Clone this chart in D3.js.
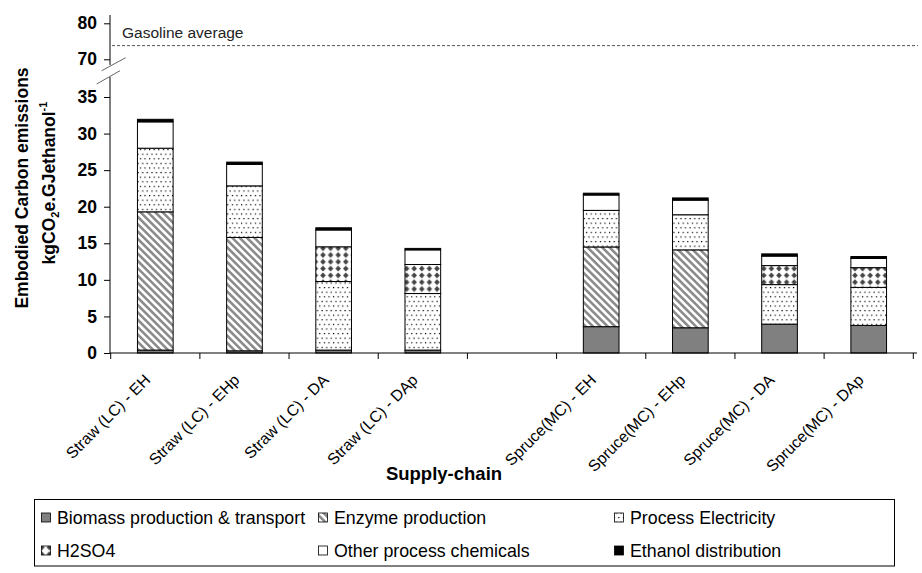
<!DOCTYPE html>
<html>
<head>
<meta charset="utf-8">
<script src="https://cdn.jsdelivr.net/npm/d3@7"></script>
<style>
  html, body { margin: 0; padding: 0; background: #fff; }
  svg { display: block; font-family: "Liberation Sans", Arial, sans-serif; }
</style>
</head>
<body>
<svg id="chart" width="922" height="573"></svg>
<script>
// ---- data ----
const categories = ["Straw (LC) - EH", "Straw (LC) - EHp", "Straw (LC) - DA", "Straw (LC) - DAp", "",
                    "Spruce(MC) - EH", "Spruce(MC) - EHp", "Spruce(MC) - DA", "Spruce(MC) - DAp"];
const seriesNames = ["Biomass production & transport", "Enzyme production", "Process Electricity",
                     "H2SO4", "Other process chemicals", "Ethanol distribution"];
const biomass      = [0.4, 0.3, 0.4, 0.4, null, 3.6, 3.45, 3.95, 3.77];
const enzyme       = [18.9, 15.5, 0, 0, null, 10.9, 10.65, 0, 0];
const electricity  = [8.7, 7.05, 9.37, 7.73, null, 5.0, 4.8, 5.4, 5.2];
const h2so4        = [0, 0, 4.75, 3.97, null, 0, 0, 2.6, 2.7];
const otherChem    = [3.6, 2.95, 2.3, 2.0, null, 2.1, 2.0, 1.3, 1.25];
const distribution = [0.35, 0.3, 0.3, 0.2, null, 0.25, 0.3, 0.3, 0.27];
const lowerTicks = [0, 5, 10, 15, 20, 25, 30, 35];
const upperTicks = [70, 80];
const gasolineAverage = 73.8;
const gasolineLabel = "Gasoline average";
const xTitle = "Supply-chain";

const seriesValues = [biomass, enzyme, electricity, h2so4, otherChem, distribution];

// ---- setup ----
const svg = d3.select("#chart");
const defs = svg.append("defs");

// patterns
const pHatch = defs.append("pattern").attr("id", "hatch").attr("patternUnits", "userSpaceOnUse")
  .attr("width", 5.2).attr("height", 5.2).attr("patternTransform", "rotate(-45)");
pHatch.append("rect").attr("width", 5.2).attr("height", 5.2).attr("fill", "#fff");
pHatch.append("rect").attr("width", 2.6).attr("height", 5.2).attr("fill", "#8c8c8c");

const pDots = defs.append("pattern").attr("id", "dots").attr("patternUnits", "userSpaceOnUse")
  .attr("width", 9.2).attr("height", 9.2);
pDots.append("rect").attr("width", 9.2).attr("height", 9.2).attr("fill", "#fff");
pDots.append("rect").attr("x", 1.8).attr("y", 1.8).attr("width", 1.2).attr("height", 1.2).attr("fill", "#000");
pDots.append("rect").attr("x", 6.4).attr("y", 1.8).attr("width", 1.2).attr("height", 1.2).attr("fill", "#000");
pDots.append("rect").attr("x", 4.1).attr("y", 6.4).attr("width", 1.2).attr("height", 1.2).attr("fill", "#000");
pDots.append("rect").attr("x", 8.7).attr("y", 6.4).attr("width", 0.5).attr("height", 1.2).attr("fill", "#000");
pDots.append("rect").attr("x", 0).attr("y", 6.4).attr("width", 0.7).attr("height", 1.2).attr("fill", "#000");

const pDiam = defs.append("pattern").attr("id", "diam").attr("patternUnits", "userSpaceOnUse")
  .attr("width", 7.6).attr("height", 6.8);
pDiam.append("rect").attr("width", 7.6).attr("height", 6.8).attr("fill", "#fff");
pDiam.append("polygon").attr("points", "3.8,0.5 6.6,3.4 3.8,6.3 1.0,3.4").attr("fill", "#454545");

const fills = ["#808080", "url(#hatch)", "url(#dots)", "url(#diam)", "#ffffff", "#000000"];

// scales
const x = d3.scaleBand().domain(categories).range([110.7, 913.3]).paddingInner(0.6).paddingOuter(0.3);
const y = d3.scaleLinear().domain([0, 35]).range([353, 97]);
const yTop = d3.scaleLinear().domain([70, 80]).range([59.3, 23.3]);
const step = x.step();

// stacked data
const rows = categories.map((c, i) => {
  const o = { cat: c };
  seriesNames.forEach((s, k) => { o[s] = seriesValues[k][i] || 0; });
  return o;
}).filter(d => d.cat !== "");
const stack = d3.stack().keys(seriesNames)(rows);

// bars
const gBars = svg.append("g");
stack.forEach((layer, k) => {
  gBars.append("g").selectAll("rect").data(layer.filter(d => d[1] - d[0] > 0)).join("rect")
    .attr("x", d => x(d.data.cat))
    .attr("width", x.bandwidth())
    .attr("y", d => y(d[1]))
    .attr("height", d => y(d[0]) - y(d[1]))
    .attr("fill", fills[k])
    .attr("stroke", "#000")
    .attr("stroke-width", 1);
});

// gasoline average line
svg.append("line").attr("x1", 112).attr("x2", 918)
  .attr("y1", yTop(gasolineAverage)).attr("y2", yTop(gasolineAverage))
  .attr("stroke", "#555").attr("stroke-width", 1).attr("stroke-dasharray", "3,2");
svg.append("text").attr("x", 122).attr("y", yTop(gasolineAverage) - 8)
  .attr("font-size", 15.5).attr("fill", "#222").text(gasolineLabel);

// y axes
const axisX = 110;
const gLow = svg.append("g").attr("transform", `translate(${axisX},0)`)
  .call(d3.axisLeft(y).tickValues(lowerTicks).tickSize(6).tickPadding(7));
const gUp = svg.append("g").attr("transform", `translate(${axisX},0)`)
  .call(d3.axisLeft(yTop).tickValues(upperTicks).tickSize(6).tickPadding(7));
[gLow, gUp].forEach(g => {
  g.select(".domain").remove();
  g.selectAll("text").attr("font-size", 17.5).attr("font-weight", "bold")
    .attr("font-family", "Liberation Sans, Arial, sans-serif").attr("fill", "#000");
  g.selectAll("line").attr("stroke", "#000");
});
svg.append("line").attr("x1", axisX).attr("x2", axisX).attr("y1", 15).attr("y2", 65).attr("stroke", "#000");
svg.append("line").attr("x1", axisX).attr("x2", axisX).attr("y1", 77).attr("y2", 353).attr("stroke", "#000");
// break marks
svg.append("line").attr("x1", 101.7).attr("y1", 70.7).attr("x2", 125.7).attr("y2", 57.7).attr("stroke", "#666");
svg.append("line").attr("x1", 96.7).attr("y1", 84).attr("x2", 120).attr("y2", 70.7).attr("stroke", "#666");

// x axis
svg.append("line").attr("x1", axisX).attr("x2", 917).attr("y1", 353).attr("y2", 353).attr("stroke", "#000");
const tickXs = categories.map(c => x(c) + x.bandwidth() / 2 - step / 2);
tickXs.push(x(categories[categories.length - 1]) + x.bandwidth() / 2 + step / 2);
svg.append("g").selectAll("line").data(tickXs).join("line")
  .attr("x1", d => d).attr("x2", d => d).attr("y1", 353).attr("y2", 359).attr("stroke", "#000");

svg.append("g").selectAll("text").data(categories.filter(c => c !== "")).join("text")
  .attr("transform", c => `translate(${x(c) + x.bandwidth() / 2 - 4},381) rotate(-45)`)
  .attr("text-anchor", "end").attr("font-size", 15.8).attr("fill", "#000").text(c => c);

svg.append("text").attr("x", 444).attr("y", 480).attr("text-anchor", "middle")
  .attr("font-size", 18.5).attr("font-weight", "bold").text(xTitle);

// y title
svg.append("text").attr("transform", "translate(28,188) rotate(-90)")
  .attr("text-anchor", "middle").attr("font-size", 17.5).attr("font-weight", "bold")
  .text("Embodied Carbon emissions");
const yt2 = svg.append("text").attr("transform", "translate(55,183) rotate(-90)")
  .attr("text-anchor", "middle").attr("font-size", 17.5).attr("font-weight", "bold");
yt2.append("tspan").text("kgCO");
yt2.append("tspan").attr("font-size", 11).attr("dy", 4).text("2");
yt2.append("tspan").attr("dy", -4).text("e.GJethanol");
yt2.append("tspan").attr("font-size", 11).attr("dy", -8).text("-1");

// legend
const legend = svg.append("g");
legend.append("rect").attr("x", 34.5).attr("y", 499.5).attr("width", 860).attr("height", 66.5)
  .attr("fill", "#fff").attr("stroke", "#000");
const colX = [41, 318, 614];
const rowY = [517.5, 550.5];
seriesNames.forEach((s, k) => {
  const cx = colX[k % 3], cy = rowY[Math.floor(k / 3)];
  legend.append("rect").attr("x", cx + 0.5).attr("y", cy - 4.5).attr("width", 9).attr("height", 9)
    .attr("fill", fills[k]).attr("stroke", "#000").attr("stroke-width", 0.8);
  legend.append("text").attr("x", cx + 16).attr("y", cy + 6.5).attr("font-size", 17.8).text(s);
});
</script>
</body>
</html>
